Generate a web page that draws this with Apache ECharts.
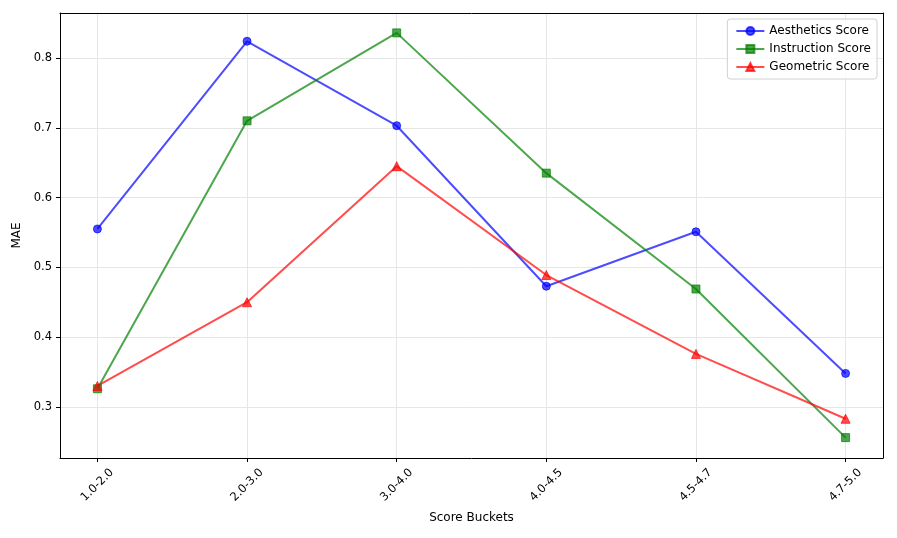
<!DOCTYPE html>
<html>
<head>
<meta charset="utf-8">
<script src="https://cdn.jsdelivr.net/npm/echarts@6/dist/echarts.min.js"></script>
<style>
  html, body { margin: 0; padding: 0; background: #fff; }
  #chart { width: 897px; height: 538px; }
</style>
</head>
<body>
<div id="chart"></div>
<script>
// 分数区间
const buckets = ['1.0-2.0', '2.0-3.0', '3.0-4.0', '4.0-4.5', '4.5-4.7', '4.7-5.0']
const aesthetics = [0.555, 0.824, 0.703, 0.473, 0.551, 0.348]
const instruction = [0.326, 0.710, 0.836, 0.635, 0.469, 0.256]
const geometric = [0.330, 0.450, 0.645, 0.489, 0.376, 0.283]
const yTicks = [0.3, 0.4, 0.5, 0.6, 0.7, 0.8]

const FONT = 'DejaVu Sans, sans-serif'
const xTicks = buckets.map((_, i) => i)
const X_MIN = -0.25, X_MAX = 5.25
const Y_MIN = 0.2268, Y_MAX = 0.8645

function toPoints(values) {
  return values.map((v, i) => [i, v])
}

function makeSeries(name, values, color, symbol, size) {
  return {
    name,
    type: 'line',
    data: toPoints(values),
    symbol,
    symbolSize: size,
    showAllSymbol: true,
    lineStyle: { color, width: 2 },
    itemStyle: { color, borderColor: color, borderWidth: 1 },
    emphasis: { disabled: true },
    z: 3
  }
}

// 只画线的框轴 (顶部 / 右侧)
function frameAxis(position, min, max) {
  return {
    type: 'value', position, min, max,
    axisLine: { show: true, onZero: false, lineStyle: { color: '#000', width: 1 } },
    axisTick: { show: false }, axisLabel: { show: false }, splitLine: { show: false }
  }
}

const chart = echarts.init(document.getElementById('chart'))

chart.setOption({
  animation: false,
  textStyle: { fontFamily: FONT },
  grid: { left: 60, top: 13, right: 14, bottom: 80, show: false },
  legend: {
    right: 20,
    top: 19,
    orient: 'vertical',
    itemGap: 6,
    itemWidth: 28,
    itemHeight: 10,
    padding: [6, 6, 6, 8],
    borderColor: '#d0d0d0',
    borderWidth: 1,
    borderRadius: 3,
    backgroundColor: 'rgba(255,255,255,0.8)',
    textStyle: { fontFamily: FONT, fontSize: 12, color: '#000' },
    data: ['Aesthetics Score', 'Instruction Score', 'Geometric Score']
  },
  xAxis: [{
    type: 'value',
    min: X_MIN,
    max: X_MAX,
    name: 'Score Buckets',
    nameLocation: 'middle',
    nameGap: 54,
    nameTextStyle: { fontFamily: FONT, fontSize: 12, color: '#000' },
    axisLine: { show: true, onZero: false, lineStyle: { color: '#000', width: 1 } },
    axisTick: { show: true, length: 4, customValues: xTicks, lineStyle: { color: '#000' } },
    axisLabel: {
      customValues: xTicks,
      rotate: 45,
      margin: 27,
      align: 'center',
      verticalAlign: 'middle',
      fontFamily: FONT,
      fontSize: 11.5,
      color: '#000',
      formatter: v => buckets[Math.round(v)] || ''
    },
    splitLine: { show: true, lineStyle: { color: '#e6e6e6', width: 1 } }
  }, frameAxis('top', X_MIN, X_MAX)],
  yAxis: [{
    type: 'value',
    min: Y_MIN,
    max: Y_MAX,
    name: 'MAE',
    nameLocation: 'middle',
    nameGap: 36,
    nameTextStyle: { fontFamily: FONT, fontSize: 12, color: '#000' },
    axisLine: { show: true, onZero: false, lineStyle: { color: '#000', width: 1 } },
    axisTick: { show: true, length: 4, customValues: yTicks, lineStyle: { color: '#000' } },
    axisLabel: {
      customValues: yTicks,
      margin: 8,
      fontFamily: FONT,
      fontSize: 11.5,
      color: '#000',
      formatter: v => v.toFixed(1)
    },
    splitLine: { show: true, lineStyle: { color: '#e6e6e6', width: 1 } }
  }, frameAxis('right', Y_MIN, Y_MAX)],
  series: [
    makeSeries('Aesthetics Score', aesthetics, 'rgba(0,0,255,0.7)', 'circle', 8),
    makeSeries('Instruction Score', instruction, 'rgba(0,128,0,0.7)', 'rect', 8),
    makeSeries('Geometric Score', geometric, 'rgba(255,0,0,0.7)', 'triangle', 9)
  ]
})
</script>
</body>
</html>
